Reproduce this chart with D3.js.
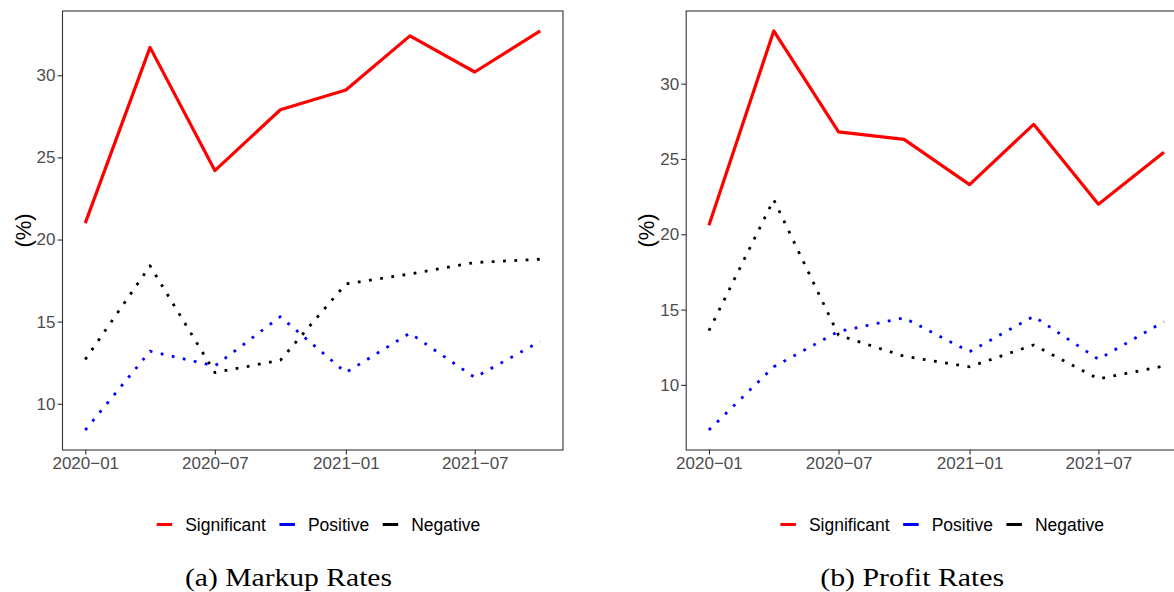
<!DOCTYPE html>
<html lang="en">
<head>
<meta charset="UTF-8">
<title>Markup and profit rates</title>
<script src="https://cdn.jsdelivr.net/npm/d3@7"></script>
<style>
  body { margin: 0; background: #fff; }
  svg { display: block; }
</style>
</head>
<body>
<div id="chart"></div>
<script>
// quarterly observations
const quarters = ["2020-01", "2020-04", "2020-07", "2020-10", "2021-01", "2021-04", "2021-07", "2021-10"];
const xTickLabels = ["2020-01", "2020-07", "2021-01", "2021-07"];
const yTickValues = [10, 15, 20, 25, 30];

const seriesNames = ["Significant", "Positive", "Negative"];

// (a) markup rates, %
const markupSignificant = [21.0, 31.7, 24.2, 27.9, 29.1, 32.4, 30.2, 32.7];
const markupPositive = [8.4, 13.2, 12.3, 15.3, 11.9, 14.3, 11.6, 13.8];
const markupNegative = [12.7, 18.4, 11.9, 12.65, 17.3, 17.9, 18.6, 18.8];

// (b) profit rates, %
const profitSignificant = [20.6, 33.5, 26.8, 26.3, 23.3, 27.3, 22.0, 25.45];
const profitPositive = [7.0, 11.2, 13.55, 14.45, 12.2, 14.55, 11.7, 14.2];
const profitNegative = [13.6, 22.3, 13.3, 11.9, 11.2, 12.65, 10.4, 11.25];

const width = 1174, height = 592;
const box = { left: 62.5, right: 563, top: 11, bottom: 450 };
const parse = d3.timeParse("%Y-%m");
const fmt = d3.timeFormat("%Y\u2212%m");

const colors = ["#ff0000", "#0000ff", "#000000"];
const dashes = [null, "2.8,8.5", "2.8,8.5"];
const widths = [3.2, 2.8, 2.8];

const panels = [
  { offset: 0, caption: "(a) Markup Rates", captionWidth: 207, series: [markupSignificant, markupPositive, markupNegative] },
  { offset: 623.7, caption: "(b) Profit Rates", captionWidth: 184, series: [profitSignificant, profitPositive, profitNegative] }
];

const svg = d3.select("#chart").append("svg")
  .attr("width", width).attr("height", height)
  .style("font-family", "'Liberation Sans', Arial, sans-serif");

// ggplot style 5% padding on both sides
function expand(ext) {
  const pad = (ext[1] - ext[0]) * 0.05;
  return [ext[0] - pad, ext[1] + pad];
}

panels.forEach(p => {
  const g = svg.append("g").attr("transform", `translate(${p.offset},0)`);
  const dates = quarters.map(parse);

  const xExt = d3.extent(dates).map(d => +d);
  const x = d3.scaleTime().domain(expand(xExt).map(t => new Date(t))).range([box.left, box.right]);
  const y = d3.scaleLinear().domain(expand(d3.extent(p.series.flat()))).range([box.bottom, box.top]);

  // lines
  const line = d3.line().x((d, i) => x(dates[i])).y(d => y(d));
  p.series.forEach((vals, i) => {
    g.append("path")
      .datum(vals)
      .attr("fill", "none")
      .attr("stroke", colors[i])
      .attr("stroke-width", widths[i])
      .attr("stroke-dasharray", dashes[i])
      .attr("stroke-linejoin", "round")
      .attr("d", line);
  });

  // panel border
  g.append("rect")
    .attr("x", box.left).attr("y", box.top)
    .attr("width", box.right - box.left).attr("height", box.bottom - box.top)
    .attr("fill", "none").attr("stroke", "#333333").attr("stroke-width", 1.1);

  // axes
  const xAxis = g.append("g")
    .attr("transform", `translate(0,${box.bottom})`)
    .call(d3.axisBottom(x).tickValues(xTickLabels.map(parse)).tickFormat(fmt).tickSize(4.5).tickPadding(2.5));
  const yAxis = g.append("g")
    .attr("transform", `translate(${box.left},0)`)
    .call(d3.axisLeft(y).tickValues(yTickValues).tickSize(5).tickPadding(2));
  [xAxis, yAxis].forEach(a => {
    a.select(".domain").remove();
    a.selectAll(".tick line").attr("stroke", "#333333").attr("stroke-width", 1.1);
    a.selectAll(".tick text").attr("fill", "#4d4d4d").style("font-size", "17px")
      .style("font-family", "'Liberation Sans', Arial, sans-serif");
  });

  // y label
  g.append("text")
    .attr("transform", `translate(23,${(box.top + box.bottom) / 2}) rotate(-90)`)
    .attr("text-anchor", "middle")
    .attr("dominant-baseline", "central")
    .style("font-size", "22px")
    .text("(%)");

  // legend, centred under the panel
  const legend = g.append("g");
  const items = seriesNames.map((name, i) => {
    const it = legend.append("g");
    it.append("line").attr("x1", 0).attr("x2", 15.5).attr("y1", 0).attr("y2", 0)
      .attr("stroke", colors[i]).attr("stroke-width", 3);
    const t = it.append("text").attr("x", 28.5).attr("y", 0).attr("dy", "0.36em")
      .style("font-size", "17.5px").text(name);
    return { it, w: 28.5 + t.node().getComputedTextLength() };
  });
  let cx = 0;
  items.forEach(({ it, w }) => { it.attr("transform", `translate(${cx},0)`); cx += w + 13.5; });
  const total = cx - 13.5;
  legend.attr("transform", `translate(${318.5 - total / 2},524.5)`);

  // caption
  g.append("text")
    .attr("x", 288.5).attr("y", 586)
    .attr("text-anchor", "middle")
    .attr("textLength", p.captionWidth)
    .attr("lengthAdjust", "spacingAndGlyphs")
    .style("font-family", "'Liberation Serif', 'Times New Roman', serif")
    .style("font-size", "25px")
    .text(p.caption);
});
</script>
</body>
</html>
